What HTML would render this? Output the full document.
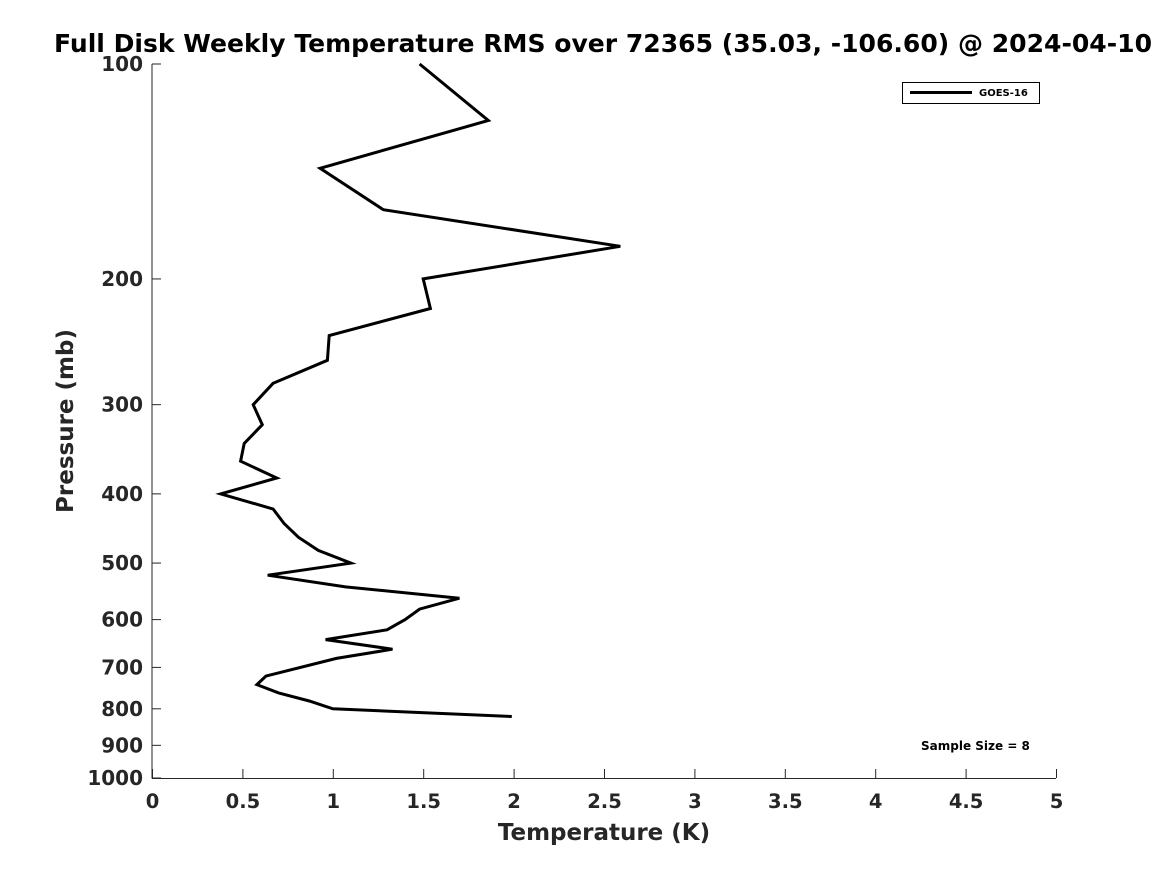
<!DOCTYPE html>
<html><head><meta charset="utf-8"><style>
body{margin:0;background:#fff}
svg text{font-family:"DejaVu Sans","Liberation Sans",sans-serif;font-weight:bold;fill:#262626}
</style></head><body>
<svg id="c" width="1167" height="875" xmlns="http://www.w3.org/2000/svg">
<rect width="1167" height="875" fill="#fff"/>
<text x="603" y="52" font-size="25" text-anchor="middle" textLength="1098" lengthAdjust="spacingAndGlyphs" style="fill:#000">Full Disk Weekly Temperature RMS over 72365 (35.03, -106.60) @ 2024-04-10</text>
<g id="axes"></g>
<g id="series"></g>
<g>
<rect x="902.5" y="82.5" width="137" height="21" fill="#fff" stroke="#000" stroke-width="1"/>
<line x1="910" y1="92.5" x2="972" y2="92.5" stroke="#000" stroke-width="3"/>
<text x="979" y="96" font-size="10" style="fill:#000">GOES-16</text>
</g>
<text x="921" y="750" font-size="12" style="fill:#000">Sample Size = 8</text>
<text x="604" y="840" font-size="23" text-anchor="middle">Temperature (K)</text>
<text transform="translate(73,421) rotate(-90)" font-size="23" text-anchor="middle">Pressure (mb)</text>
</svg>
<script>
const temps=[1.48,1.86,0.93,1.28,2.59,1.50,1.54,0.98,0.97,0.67,0.56,0.61,0.51,0.49,0.69,0.38,0.67,0.73,0.81,0.92,1.10,0.64,1.07,1.70,1.48,1.40,1.30,0.96,1.33,1.02,0.63,0.58,0.70,0.87,1.00,1.99];
const pressures=[100,120,140,160,180,200,220,240,260,280,300,320,340,360,380,400,420,440,460,480,500,520,540,560,580,600,620,640,660,680,720,740,760,780,800,820];
const xTicks=[0,0.5,1,1.5,2,2.5,3,3.5,4,4.5,5];
const yTicks=[100,200,300,400,500,600,700,800,900,1000];
const X0=152,X1=1056,Y0=64,Y1=778;
const xs=v=>X0+(v-0)/5*(X1-X0);
const ys=p=>Y0+(Math.log10(p)-2)*(Y1-Y0);
const NS="http://www.w3.org/2000/svg";
const ax=document.getElementById('axes');
function mk(t,a,par){const e=document.createElementNS(NS,t);for(const k in a)e.setAttribute(k,a[k]);par.appendChild(e);return e;}
let l=mk('line',{x1:X0,y1:Y0,x2:X0,y2:Y1+0.5,stroke:'#262626'},ax);


l=mk('line',{x1:X0,y1:Y1+0.5,x2:X1,y2:Y1+0.5,stroke:'#262626'},ax);


xTicks.forEach(v=>{const x=xs(v)+0.5;
mk('line',{x1:x,y1:Y1,x2:x,y2:Y1-9,stroke:'#262626'},ax);
const t=mk('text',{x:x,y:808,'font-size':19.5,'text-anchor':'middle'},ax);t.textContent=v;

});
yTicks.forEach(p=>{const y=ys(p);
mk('line',{x1:X0,y1:y,x2:X0+9,y2:y,stroke:'#262626'},ax);
const t=mk('text',{x:143,y:y+7,'font-size':20,'text-anchor':'end'},ax);t.textContent=p;

});
const pts=temps.map((v,i)=>xs(v).toFixed(1)+','+ys(pressures[i]).toFixed(1)).join(' ');
const pl=mk('polyline',{points:pts,fill:'none',stroke:'#000','stroke-width':3,'stroke-linejoin':'miter'},document.getElementById('series'));


</script>
</body></html>
